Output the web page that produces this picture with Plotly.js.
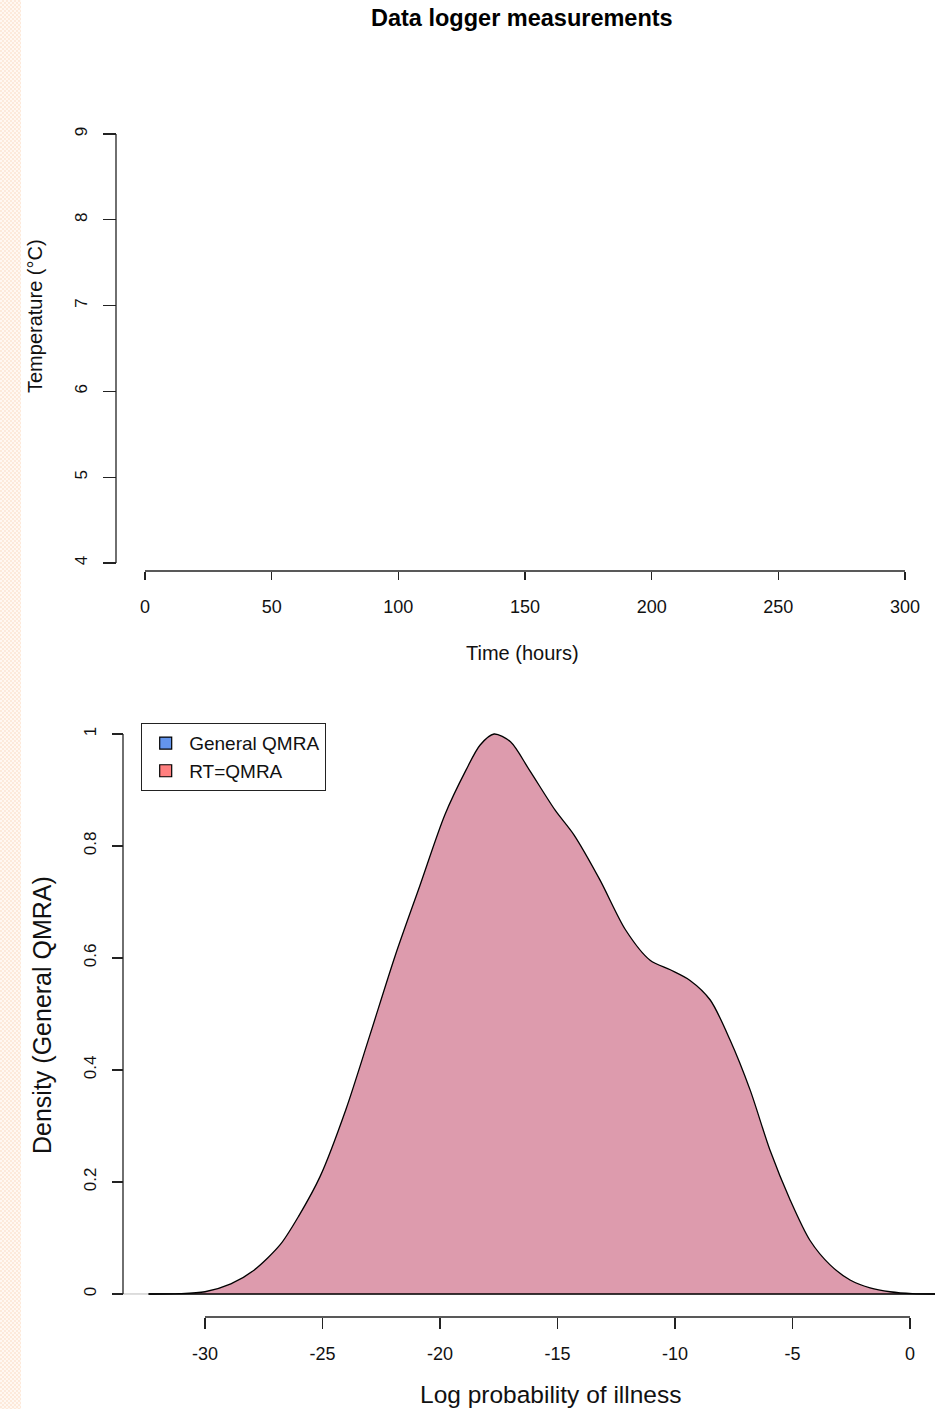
<!DOCTYPE html>
<html>
<head>
<meta charset="utf-8">
<script src="https://cdn.plot.ly/plotly-3.0.1.min.js"></script>
<style>
  html, body { margin: 0; padding: 0; background: #ffffff; }
  #strip { position: absolute; left: 0; top: 0; width: 21px; height: 1409px; z-index: 5;
           background: repeating-conic-gradient(#fde9da 0 25%, #fff8f2 0 50%) 0 0 / 4px 4px; }
  #chart { position: absolute; left: 0; top: 0; width: 935px; height: 1409px; }
</style>
</head>
<body>
<div id="strip"></div>
<div id="chart"></div>
<script>
// ---- Data ----
// Top panel: data logger measurements (no readings drawn in the reference)
const timeHours = [];
const temperatureC = [];
const timeTicks = [0, 50, 100, 150, 200, 250, 300];
const tempTicks = [4, 5, 6, 7, 8, 9];

// Bottom panel: density of log probability of illness
const logProb = [-32.4, -31.1, -30.0, -28.9, -27.9, -26.8, -26.0, -25.1, -24.0, -23.0, -21.9, -20.85, -19.8, -18.9, -18.3, -17.7, -17.0, -16.2, -15.1, -14.3, -13.2, -12.1, -11.06, -10.2, -9.36, -8.5, -7.66, -6.8, -5.96, -5.1, -4.26, -3.4, -2.55, -1.7, -0.85, 0.1, 1.5];
const density = [0, 0.0005, 0.004, 0.018, 0.043, 0.088, 0.14, 0.21, 0.33, 0.46, 0.605, 0.73, 0.855, 0.935, 0.98, 1.0, 0.986, 0.936, 0.864, 0.82, 0.74, 0.65, 0.596, 0.579, 0.56, 0.525, 0.454, 0.364, 0.257, 0.168, 0.096, 0.052, 0.025, 0.011, 0.004, 0.0005, 0];
const probTicks = [-30, -25, -20, -15, -10, -5, 0];
const probTickText = ['-30', '-25', '-20', '-15', '-10', '-5', '0'];
const densTicks = [0, 0.2, 0.4, 0.6, 0.8, 1];
const densTickText = ['0', '0.2', '0.4', '0.6', '0.8', '1'];
const legendNames = ['General QMRA', 'RT=QMRA'];
const legendColors = ['#6495ed', '#ff7f7f'];

// ---- Layout helpers (pixel -> paper) ----
const W = 935, H = 1409;
const px = x => x / W;
const py = y => 1 - y / H;
const FONT = 'Liberation Sans, Arial, sans-serif';
const AX = '#222222';

const traces = [
  { x: timeHours, y: temperatureC, xaxis: 'x', yaxis: 'y', mode: 'lines',
    line: { color: 'black' }, showlegend: false, hoverinfo: 'skip' },
  { x: logProb, y: density, xaxis: 'x2', yaxis: 'y2', mode: 'lines', fill: 'tozeroy',
    fillcolor: '#dd9bad', line: { color: '#000000', width: 1.3, shape: 'spline', smoothing: 0.8 },
    showlegend: false, hoverinfo: 'skip' }
];
legendNames.forEach((n, i) => traces.push({
  x: [null], y: [null], xaxis: 'x2', yaxis: 'y2', mode: 'markers', name: n,
  marker: { symbol: 'square', size: 12, color: legendColors[i], line: { color: '#000', width: 1.2 } }
}));

const xTickFont = { family: FONT, size: 18, color: '#111' };
const yTickFont = { family: FONT, size: 17, color: '#111' };

const layout = {
  width: W, height: H,
  margin: { l: 0, r: 0, t: 0, b: 0 },
  paper_bgcolor: 'rgba(0,0,0,0)', plot_bgcolor: 'rgba(0,0,0,0)',
  font: { family: FONT, color: '#111' },
  showlegend: true,
  legend: { x: px(141), y: py(723), xanchor: 'left', yanchor: 'top',
            bgcolor: '#ffffff', bordercolor: AX, borderwidth: 1.2, itemwidth: 37,
            font: { family: FONT, size: 19, color: '#111' }, tracegroupgap: 0 },
  xaxis: { domain: [px(115), 1], range: [-11.84, 311.84], anchor: 'free', position: py(571),
           showgrid: false, zeroline: false, showline: false,
           tickmode: 'array', tickvals: timeTicks, ticks: 'outside', ticklen: 8, tickwidth: 1.3, tickcolor: AX,
           tickfont: xTickFont, ticklabelstandoff: 11 },
  yaxis: { domain: [py(571), py(117)], range: [3.9068, 9.198], anchor: 'free', position: px(116),
           showgrid: false, zeroline: false, showline: false,
           tickmode: 'array', tickvals: tempTicks, ticks: 'outside', ticklen: 13, tickwidth: 1.3, tickcolor: AX,
           tickangle: -90, tickfont: yTickFont, ticklabelstandoff: 9 },
  xaxis2: { domain: [px(123), 1], range: [-33.489, 1.064], anchor: 'free', position: py(1317),
            showgrid: false, zeroline: false, showline: false,
            tickmode: 'array', tickvals: probTicks, ticktext: probTickText, ticks: 'outside', ticklen: 11, tickwidth: 1.3, tickcolor: AX,
            tickfont: xTickFont, ticklabelstandoff: 9 },
  yaxis2: { domain: [py(1317), py(712)], range: [-0.0411, 1.0393], anchor: 'free', position: px(123),
            showgrid: false, zeroline: false, showline: false,
            tickmode: 'array', tickvals: densTicks, ticktext: densTickText, ticks: 'outside', ticklen: 11, tickwidth: 1.3, tickcolor: AX,
            tickangle: -90, tickfont: yTickFont, ticklabelstandoff: 9 },
  shapes: [
    // R-style axis lines spanning first to last tick
    { type: 'line', xref: 'x', yref: 'paper', x0: timeTicks[0], x1: timeTicks[timeTicks.length - 1], y0: py(571), y1: py(571), line: { color: AX, width: 1.3 } },
    { type: 'line', xref: 'paper', yref: 'y', x0: px(116), x1: px(116), y0: tempTicks[0], y1: tempTicks[tempTicks.length - 1], line: { color: AX, width: 1.3 } },
    { type: 'line', xref: 'x2', yref: 'paper', x0: probTicks[0], x1: probTicks[probTicks.length - 1], y0: py(1317), y1: py(1317), line: { color: AX, width: 1.3 } },
    { type: 'line', xref: 'paper', yref: 'y2', x0: px(123), x1: px(123), y0: densTicks[0], y1: densTicks[densTicks.length - 1], line: { color: AX, width: 1.3 } },
    // zero line of density plot (grey) and polygon bottom edge (black)
    { type: 'line', xref: 'paper', yref: 'y2', x0: px(123), x1: 1, y0: 0, y1: 0, layer: 'below', line: { color: '#bbbbbb', width: 1 } },
    { type: 'line', xref: 'x2', yref: 'y2', x0: logProb[0], x1: logProb[logProb.length - 1], y0: 0, y1: 0, line: { color: '#000', width: 1.3 } }
  ],
  annotations: [
    { text: '<b>Data logger measurements</b>', xref: 'paper', yref: 'paper', x: px(522), y: py(18), showarrow: false,
      font: { family: FONT, size: 23.5, color: '#000' }, xanchor: 'center', yanchor: 'middle' },
    { text: 'Temperature (°C)', xref: 'paper', yref: 'paper', x: px(35), y: py(316), showarrow: false, textangle: -90,
      font: { family: FONT, size: 20, color: '#111' }, xanchor: 'center', yanchor: 'middle' },
    { text: 'Time (hours)', xref: 'paper', yref: 'paper', x: px(522), y: py(653), showarrow: false,
      font: { family: FONT, size: 20, color: '#111' }, xanchor: 'center', yanchor: 'middle' },
    { text: 'Density (General QMRA)', xref: 'paper', yref: 'paper', x: px(42), y: py(1015), showarrow: false, textangle: -90,
      font: { family: FONT, size: 25, color: '#111' }, xanchor: 'center', yanchor: 'middle' },
    { text: 'Log probability of illness', xref: 'paper', yref: 'paper', x: px(551), y: py(1394), showarrow: false,
      font: { family: FONT, size: 24.5, color: '#111' }, xanchor: 'center', yanchor: 'middle' }
  ]
};

Plotly.newPlot('chart', traces, layout, { displayModeBar: false, staticPlot: true });
</script>
</body>
</html>
